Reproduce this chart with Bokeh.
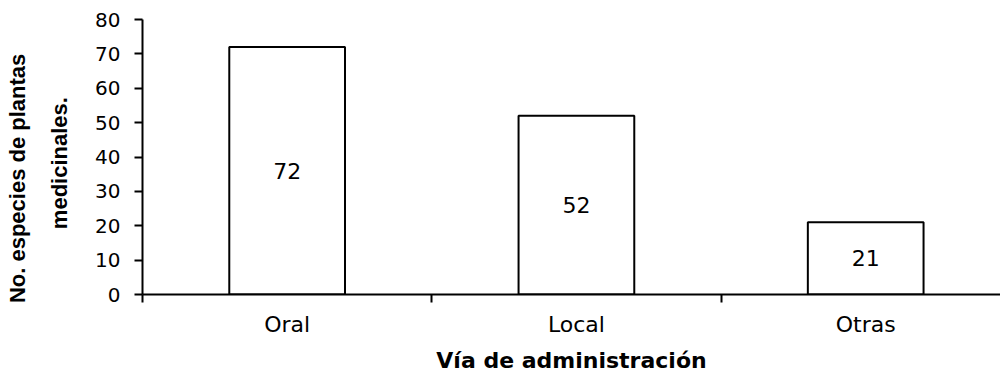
from bokeh.plotting import figure
from bokeh.models import Range1d, FixedTicker, ColumnDataSource, LabelSet
from bokeh.core.properties import value
from bokeh.embed import file_html
from bokeh.resources import INLINE

categories = ["Oral", "Local", "Otras"]
values = [72, 52, 21]
y_ticks = [0, 10, 20, 30, 40, 50, 60, 70, 80]

xs = [i + 0.5 for i in range(len(categories))]
src = ColumnDataSource(dict(x=xs, top=values, mid=[v / 2 for v in values],
                            lab=[str(v) for v in values]))

p = figure(width=1000, height=377, output_backend="svg", toolbar_location=None,
           x_range=Range1d(0, 2.966), y_range=Range1d(0, 80),
           min_border_left=142, min_border_right=0, min_border_top=19,
           min_border_bottom=83)
p.outline_line_color = None
p.xgrid.visible = False
p.ygrid.visible = False
p.background_fill_color = "white"

p.vbar(x="x", top="top", bottom=0, width=0.4, source=src,
       fill_color="white", line_color="black", line_width=2)

font = "DejaVu Sans"
labels = LabelSet(x="x", y="mid", text="lab", source=src, text_align="center",
                  text_baseline="middle", text_font=value(font),
                  text_font_size=value("22px"), text_color="black")
p.add_layout(labels)

xa = p.xaxis[0]
xa.ticker = FixedTicker(ticks=xs, minor_ticks=[0, 1, 2])
xa.major_label_overrides = {x: c for x, c in zip(xs, categories)}
xa.major_tick_line_color = None
xa.major_tick_out = 8
xa.major_tick_in = 0
xa.minor_tick_out = 8
xa.minor_tick_in = 0
xa.minor_tick_line_width = 2
xa.axis_line_width = 2
xa.major_label_standoff = 9
xa.major_label_text_font = font
xa.major_label_text_font_size = "22px"
xa.major_label_text_color = "black"
xa.axis_label = "V\u00eda de administraci\u00f3n"
xa.axis_label_text_font = font
xa.axis_label_text_font_style = "bold"
xa.axis_label_text_font_size = "22px"
xa.axis_label_text_color = "black"
xa.axis_label_standoff = 8

ya = p.yaxis[0]
ya.ticker = FixedTicker(ticks=y_ticks)
ya.minor_tick_line_color = None
ya.major_tick_out = 8
ya.major_tick_in = 0
ya.major_tick_line_width = 2
ya.axis_line_width = 2
ya.major_label_standoff = 14
ya.major_label_text_font = font
ya.major_label_text_font_size = "20px"
ya.major_label_text_color = "black"
ya.axis_label = ("No. especies de plantas" + "\u00a0" * 7 + "\n"
                 + "medicinales." + "\u00a0" * 2)
ya.axis_label_text_font = "Liberation Sans"
ya.axis_label_text_font_style = "bold"
ya.axis_label_text_font_size = "22px"
ya.axis_label_text_line_height = 1.7
ya.axis_label_text_color = "black"
ya.axis_label_standoff = 20

open("out.html", "w").write(file_html(p, INLINE))
